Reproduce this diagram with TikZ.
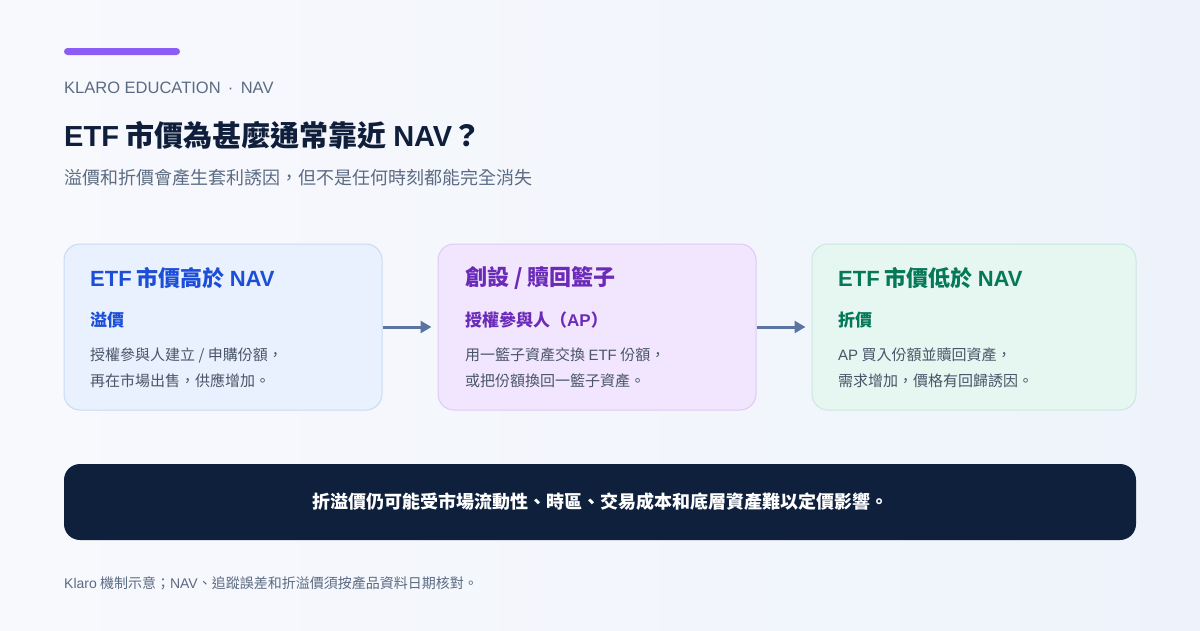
\documentclass[tikz,border=0pt]{standalone}
\usepackage{fontspec}
\setmainfont{Noto Sans CJK TC}
\newfontfamily\lat{Liberation Sans}
\newcommand{\lt}[1]{{\lat #1}}
\usetikzlibrary{arrows.meta}
\definecolor{bgA}{HTML}{F8F9FD}
\definecolor{bgB}{HTML}{EEF3FB}
\definecolor{accent}{HTML}{8B5CF6}
\definecolor{muted}{HTML}{5B6B82}
\definecolor{ink}{HTML}{0F1E3A}
\definecolor{body}{HTML}{4A5568}
\definecolor{blueF}{HTML}{E8F1FD}
\definecolor{blueD}{HTML}{C9DBF2}
\definecolor{blueT}{HTML}{1D4ED8}
\definecolor{purF}{HTML}{F1E6FD}
\definecolor{purD}{HTML}{DDCBF5}
\definecolor{purT}{HTML}{6B2AB8}
\definecolor{grnF}{HTML}{E6F6F1}
\definecolor{grnD}{HTML}{C9E8DE}
\definecolor{grnT}{HTML}{047857}
\definecolor{arrowC}{HTML}{5B75A3}
\definecolor{navy}{HTML}{0F203D}
\tikzset{
  card/.style={draw, line width=1pt, rounded corners=16pt, minimum width=318pt, minimum height=166pt, inner sep=0pt},
  txt/.style={anchor=west, inner sep=0pt},
  ctitle/.style={txt, font=\fontsize{22}{25}\selectfont\bfseries},
  csub/.style={txt, font=\fontsize{17}{20}\selectfont\bfseries},
  cbody/.style={txt, font=\fontsize{15}{18}\selectfont, text=body},
  arr/.style={draw=arrowC, line width=3pt, -{Triangle[length=11pt,width=12pt]}, shorten >=6pt}
}
\begin{document}
\begin{tikzpicture}[x=1pt,y=-1pt]
\shade[left color=bgA, right color=bgB] (0,0) rectangle (1200,630);
\useasboundingbox (0,0) rectangle (1200,630);
\fill[accent, rounded corners=3.5pt] (64,48) rectangle (180,55);
\node[txt, text=muted, font=\fontsize{16.5}{19}\selectfont\lat] (kicker) at (64,88) {KLARO EDUCATION \,·\, NAV};
\node[txt, text=ink, font=\fontsize{29}{34}\selectfont\bfseries] (title) at (64,136) {\lt{ETF} 市價為甚麼通常靠近 \lt{NAV}？};
\node[txt, text=muted, font=\fontsize{18}{21}\selectfont] (subtitle) at (64,178) {溢價和折價會產生套利誘因，但不是任何時刻都能完全消失};
% cards
\node[card, draw=blueD, fill=blueF] (b1) at (223,327) {};
\node[card, draw=purD, fill=purF] (b2) at (597,327) {};
\node[card, draw=grnD, fill=grnF, minimum width=324pt] (b3) at (974,327) {};
% card 1
\node[ctitle, text=blueT] (t1) at (90,278) {\lt{ETF} 市價高於 \lt{NAV}};
\node[csub, text=blueT] (s1) at (90,320) {溢價};
\node[cbody] (p1a) at (90,355) {授權參與人建立 / 申購份額，};
\node[cbody] (p1b) at (90,381) {再在市場出售，供應增加。};
% card 2
\node[ctitle, text=purT] (t2) at (465,278) {創設 / 贖回籃子};
\node[csub, text=purT] (s2) at (465,320) {授權參與人（\lt{AP}）};
\node[cbody] (p2a) at (465,355) {用一籃子資產交換 \lt{ETF} 份額，};
\node[cbody] (p2b) at (465,381) {或把份額換回一籃子資產。};
% card 3
\node[ctitle, text=grnT] (t3) at (838,278) {\lt{ETF} 市價低於 \lt{NAV}};
\node[csub, text=grnT] (s3) at (838,320) {折價};
\node[cbody] (p3a) at (838,355) {\lt{AP} 買入份額並贖回資產，};
\node[cbody] (p3b) at (838,381) {需求增加，價格有回歸誘因。};
% arrows
\draw[arr] (b1.east) -- (b2.west);
\draw[arr] (b2.east) -- (b3.west);
% bottom bar
\node[fill=navy, rounded corners=16pt, minimum width=1072pt, minimum height=76pt, inner sep=0pt, text=white, font=\fontsize{18}{21}\selectfont\bfseries] (note) at (600,502) {折溢價仍可能受市場流動性、時區、交易成本和底層資產難以定價影響。};
\node[txt, text=muted, font=\fontsize{14}{16}\selectfont] (foot) at (64,583) {\lt{Klaro} 機制示意；\lt{NAV}、追蹤誤差和折溢價須按產品資料日期核對。};
\end{tikzpicture}
\end{document}
